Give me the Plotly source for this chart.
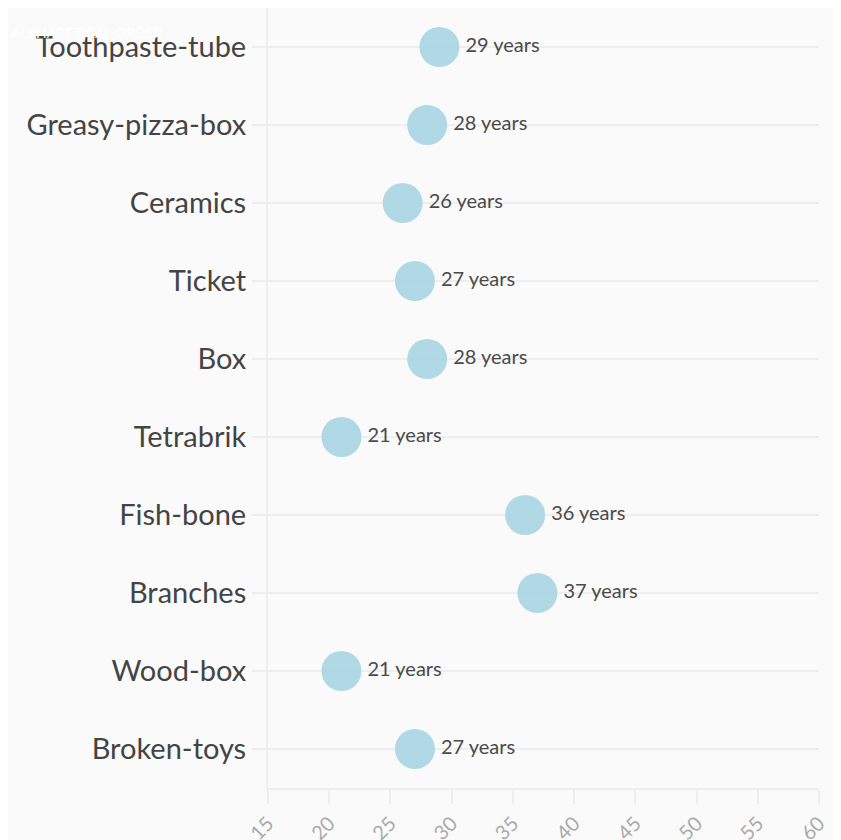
import plotly.graph_objs as go

# data (top to bottom)
items = ["Toothpaste-tube", "Greasy-pizza-box", "Ceramics", "Ticket", "Box",
         "Tetrabrik", "Fish-bone", "Branches", "Wood-box", "Broken-toys"]
years = [29, 28, 26, 27, 28, 21, 36, 37, 21, 27]
x_ticks = [15, 20, 25, 30, 35, 40, 45, 50, 55, 60]

labels = [f"{v} years" for v in years]

fig = go.Figure()
fig.add_trace(go.Scatter(
    x=years, y=items, mode="markers+text",
    text=labels, textposition="middle right",
    textfont=dict(family="Lato, sans-serif", size=20, color="#4a4a4a"),
    marker=dict(size=40, color="#a8d5e2", opacity=0.9, line=dict(width=0)),
    hoverinfo="x+y",
))

fig.update_layout(
    width=841, height=840,
    margin=dict(l=260, r=30, t=0, b=60),
    paper_bgcolor="#fafafa", plot_bgcolor="#fafafa",
    showlegend=False,
    font=dict(family="Lato, sans-serif"),
    xaxis=dict(
        range=[15, 60], tickvals=x_ticks, tickangle=-45,
        showgrid=False, zeroline=False,
        showline=True, linecolor="#eeeeee", linewidth=2,
        ticks="outside", ticklen=14, tickcolor="#eeeeee", tickwidth=2,
        tickfont=dict(size=20, color="#aaaaaa"),
    ),
    yaxis=dict(
        categoryorder="array", categoryarray=items[::-1],
        range=[-0.5, 9.5],
        showgrid=True, gridcolor="#eeeeee", gridwidth=2, zeroline=False,
        showline=True, linecolor="#eeeeee", linewidth=2,
        ticks="outside", ticklen=14, tickcolor="#eeeeee", tickwidth=2,
        tickfont=dict(size=29, color="#444444"),
    ),
    annotations=[dict(
        text="ALPHABETICAL ORDER", xref="paper", yref="paper",
        x=-0.47, y=1.0, xanchor="left", yanchor="top", showarrow=False,
        yshift=-14,
        font=dict(size=14, color="#ffffff"),
    )],
)

fig.write_html("out.html")
